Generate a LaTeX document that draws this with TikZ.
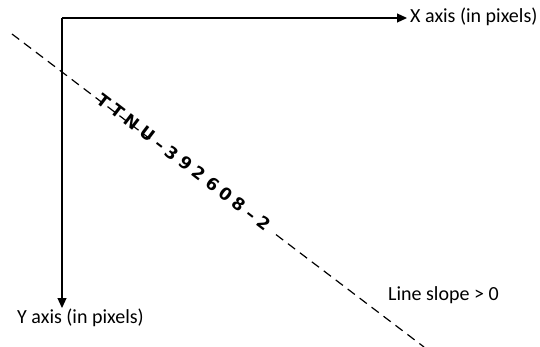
\documentclass[tikz,border=0pt]{standalone}
\usepackage{fontspec}
\setmainfont{Carlito}
\newfontfamily\platefont[LetterSpace=30]{DejaVu Sans}
\usetikzlibrary{arrows.meta}
\begin{document}
\begin{tikzpicture}[x=1pt,y=-1pt,
  axis/.style={line width=1.2pt,-{Triangle[length=10pt,width=9pt]}},
  guide/.style={line width=1.2pt,dash pattern=on 9pt off 6pt},
  lbl/.style={font=\fontsize{20}{22}\selectfont,inner sep=0pt},
  plate/.style={font=\platefont\bfseries\fontsize{17}{20}\selectfont,rotate=-37.5,inner sep=0pt}]
\useasboundingbox (0,0) rectangle (540,347);
% axes
\coordinate (O) at (62,18);
\coordinate (xe) at (407,18);
\coordinate (ye) at (62,308);
\node[lbl,anchor=base west] (xl) at (410,23) {X axis (in pixels)};
\node[lbl,anchor=base west] (yl) at (17,323) {Y axis (in pixels)};
\node[lbl,anchor=base west] (sl) at (388,300) {Line slope > 0};
\draw[axis] (O) -- (xe);
\draw[axis] (O) -- (ye);
% dashed line
\coordinate (S) at (12,34);
\coordinate (c1) at (150,138.9);
\coordinate (c2) at (276,234.6);
\coordinate (E) at (424,347);
\draw[guide] (S) -- (c1);
\draw[guide] (c2) -- (E);
% plate text
\node[plate] (pl) at (184,162) {TTNU–392608–2};
\end{tikzpicture}
\end{document}
